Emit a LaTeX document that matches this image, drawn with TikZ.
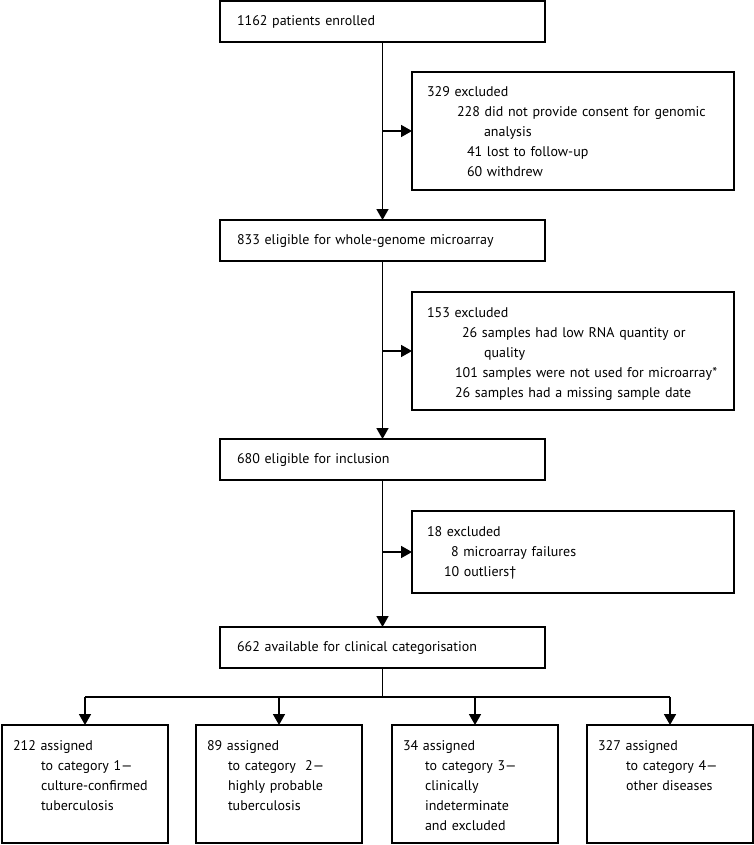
\documentclass[tikz,border=0pt]{standalone}
\usepackage{fontspec}
\setmainfont{PT Sans}
\usetikzlibrary{arrows.meta}
\newcommand{\boxfont}{\fontsize{14}{20}\selectfont}

\begin{document}
\begin{tikzpicture}[x=1pt, y=-1pt, line width=1.7pt, >={Triangle[length=11pt,width=12pt]}]
	\tikzstyle{mainbox}=[draw, anchor=north west, outer sep=0pt, minimum width=325pt, minimum height=41pt, text width=291pt, inner xsep=17pt, align=left, font=\boxfont]
	\tikzstyle{exbox}=[draw, anchor=north west, outer sep=0pt, text width=292pt, inner xsep=15pt, inner ysep=0pt, text height=25pt, align=left, font=\boxfont]
	\tikzstyle{catbox}=[draw, anchor=north west, outer sep=0pt, text width=144pt, inner xsep=11pt, inner ysep=0pt, text height=25pt, text depth=93pt, align=left, font=\boxfont]

	\useasboundingbox (0,0) rectangle (754,845);

	% Main boxes
	\node[mainbox] (enrolled) at (220,1) {1162 patients enrolled};
	\node[mainbox] (microarray) at (220,220) {833 eligible for whole-genome microarray};
	\node[mainbox] (inclusion) at (220,439) {680 eligible for inclusion};
	\node[mainbox] (available) at (220,627) {662 available for clinical categorisation};

	% Exclusion boxes
	\node[exbox, text depth=93pt] (excl1) at (412,72) {329 excluded\\
		\hspace*{30pt}228 did not provide consent for genomic\\
		\hspace*{57pt}analysis\\
		\hspace*{40pt}41 lost to follow-up\\
		\hspace*{40pt}60 withdrew};
	\node[exbox, text depth=93pt] (excl2) at (412,292) {153 excluded\\
		\hspace*{35pt}26 samples had low RNA quantity or\\
		\hspace*{57pt}quality\\
		\hspace*{28pt}101 samples were not used for microarray*\\
		\hspace*{28pt}26 samples had a missing sample date};
	\node[exbox, text depth=57pt] (excl3) at (412,511) {18 excluded\\
		\hspace*{24pt}8 microarray failures\\
		\hspace*{17pt}10 outliers†};

	% Category boxes
	\node[catbox] (cat1) at (2,725) {212 assigned\\
		\hspace*{28pt}to category 1—\\
		\hspace*{28pt}culture-confirmed\\
		\hspace*{28pt}tuberculosis};
	\node[catbox] (cat2) at (196,725) {89 assigned\\
		\hspace*{21pt}to category\ \ 2—\\
		\hspace*{21pt}highly probable\\
		\hspace*{21pt}tuberculosis};
	\node[catbox] (cat3) at (392,725) {34 assigned\\
		\hspace*{22pt}to category 3—\\
		\hspace*{22pt}clinically\\
		\hspace*{22pt}indeterminate\\
		\hspace*{22pt}and excluded};
	\node[catbox] (cat4) at (587,725) {327 assigned\\
		\hspace*{28pt}to category 4—\\
		\hspace*{28pt}other diseases};

	% Arrows
	\draw[->] (enrolled) -- (microarray);
	\draw[->] (microarray) -- (inclusion);
	\draw[->] (inclusion) -- (available);
	\draw[->] (enrolled.south |- excl1.west) -- (excl1.west);
	\draw[->] (enrolled.south |- excl2.west) -- (excl2.west);
	\draw[->] (enrolled.south |- excl3.west) -- (excl3.west);

	% Split to categories
	\coordinate (split) at (382.5,697);
	\draw (available) -- (split);
	\draw (split -| cat1.north) -- (split -| cat4.north);
	\foreach \c in {cat1,cat2,cat3,cat4}
		\draw[->] (split -| \c.north) -- (\c.north);

\end{tikzpicture}
\end{document}
